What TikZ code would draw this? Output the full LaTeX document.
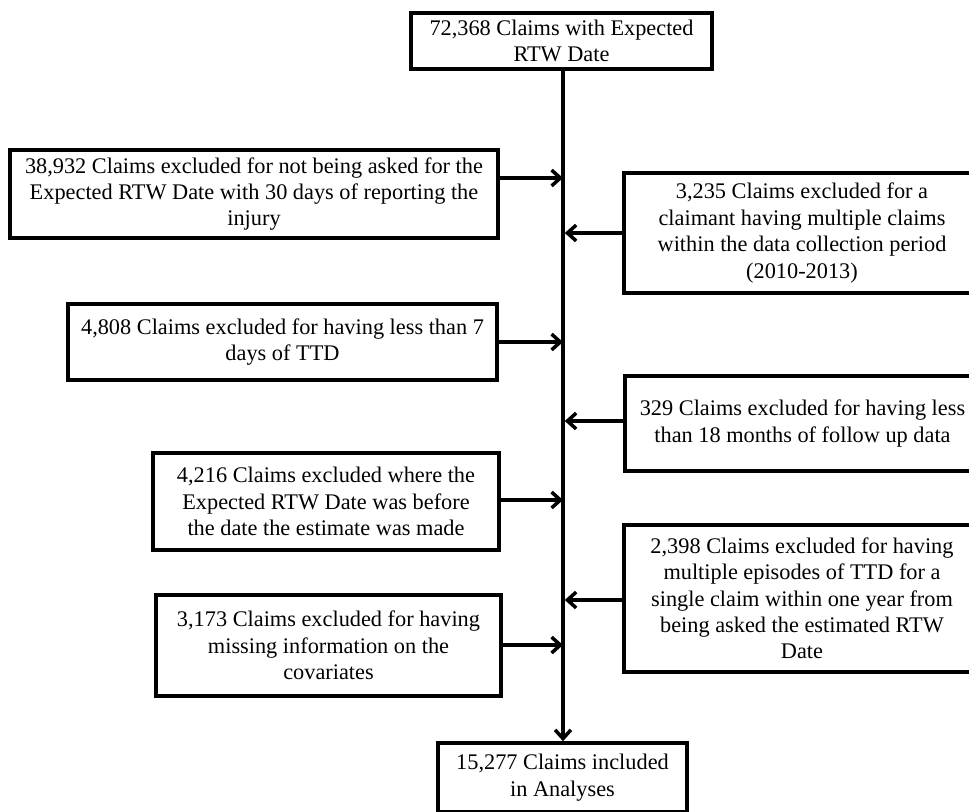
\documentclass[tikz,border=0pt]{standalone}
\usepackage{fontspec}
\setmainfont{Liberation Serif}
\usetikzlibrary{arrows.meta}

\begin{document}
\begin{tikzpicture}[
        x=0.02cm, y=-0.02cm,
        every node/.style={font=\fontsize{12.7}{15}\selectfont},
        flowbox/.style={rectangle, draw, line width=2pt,
            inner sep=0pt, align=center, text centered},
        arrow/.style={-{Straight Barb[length=5pt, width=9pt, line width=2pt]},
            line width=2pt}
      ]
      \useasboundingbox (0,0) rectangle (969,811);
      % main flow
      \node[flowbox, minimum width=301*0.02cm, minimum height=56*0.02cm]
      (start) at (561.5, 41)
      {72,368 Claims with Expected\\RTW Date};
      \node[flowbox, minimum width=249*0.02cm, minimum height=69*0.02cm]
      (final) at (562.5, 777.5)
      {15,277 Claims included\\in Analyses};
      % exclusions, left side
      \node[flowbox, minimum width=488*0.02cm, minimum height=88*0.02cm]
      (askdate) at (254, 194)
      {38,932 Claims excluded for not being asked for the\\
       Expected RTW Date with 30 days of reporting the\\injury};
      \node[flowbox, minimum width=429*0.02cm, minimum height=76*0.02cm]
      (shortttd) at (282.5, 342)
      {4,808 Claims excluded for having less than 7\\days of TTD};
      \node[flowbox, minimum width=346*0.02cm, minimum height=97*0.02cm]
      (before) at (326, 501.5)
      {4,216 Claims excluded where the\\Expected RTW Date was before\\
       the date the estimate was made};
      \node[flowbox, minimum width=345*0.02cm, minimum height=101*0.02cm]
      (missing) at (328.5, 645.5)
      {3,173 Claims excluded for having\\missing information on the\\covariates};
      % exclusions, right side
      \node[flowbox, minimum width=356*0.02cm, minimum height=120*0.02cm]
      (multclaim) at (802, 233)
      {3,235 Claims excluded for a\\claimant having multiple claims\\
       within the data collection period\\(2010-2013)};
      \node[flowbox, minimum width=355*0.02cm, minimum height=95*0.02cm]
      (followup) at (802.5, 423.5)
      {329 Claims excluded for having less\\than 18 months of follow up data};
      \node[flowbox, minimum width=356*0.02cm, minimum height=147*0.02cm]
      (episodes) at (802, 598.5)
      {2,398 Claims excluded for having\\multiple episodes of TTD for a\\
       single claim within one year from\\being asked the estimated RTW\\Date};
      % points on the trunk
      \coordinate (t1) at (563, 178);
      \coordinate (t2) at (563, 233);
      \coordinate (t3) at (563, 342);
      \coordinate (t4) at (563, 421);
      \coordinate (t5) at (563, 500);
      \coordinate (t6) at (563, 600);
      \coordinate (t7) at (563, 645);
      \draw[arrow] (start.south -| t1) -- (final.north -| t1);
      \draw[arrow] (askdate.east |- t1)  -- (t1);
      \draw[arrow] (multclaim.west |- t2) -- ([xshift=1pt]t2);
      \draw[arrow] (shortttd.east |- t3) -- (t3);
      \draw[arrow] (followup.west |- t4) -- ([xshift=1pt]t4);
      \draw[arrow] (before.east |- t5)   -- (t5);
      \draw[arrow] (episodes.west |- t6) -- ([xshift=1pt]t6);
      \draw[arrow] (missing.east |- t7)  -- (t7);
    \end{tikzpicture}
\end{document}
